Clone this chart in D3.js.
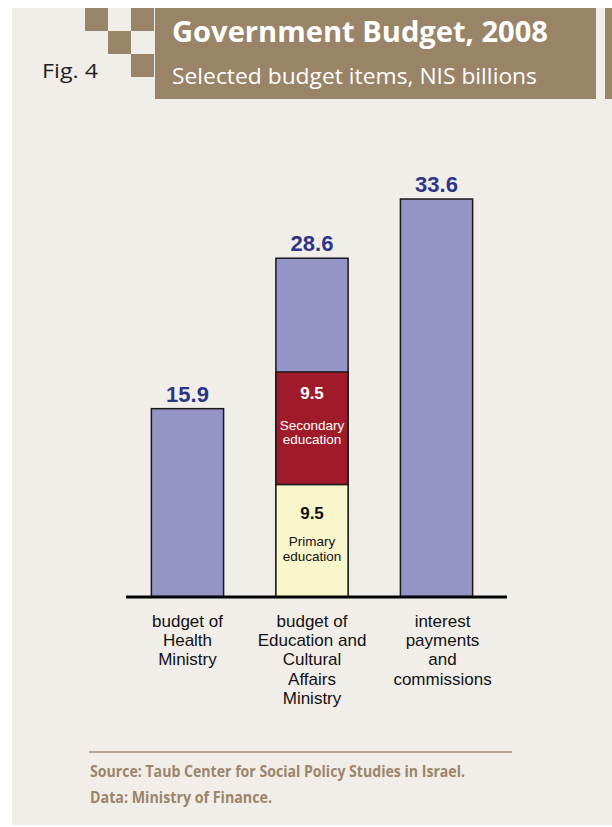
<!DOCTYPE html>
<html><head><meta charset="utf-8">
<script src="https://cdn.jsdelivr.net/npm/d3@7"></script>
<style>html,body{margin:0;padding:0;background:#fff;}svg{display:block;}</style>
</head><body>
<script>
// ---- data ----
const categories = ["health", "education", "interest"];
const categoryLabels = [
  ["budget of", "Health", "Ministry"],
  ["budget of", "Education and", "Cultural", "Affairs", "Ministry"],
  ["interest", "payments", "and", "commissions"]
];
const totals = [15.9, 28.6, 33.6];
const primaryEducation = [0, 9.5, 0];
const secondaryEducation = [0, 9.5, 0];
const segmentNames = ["Primary education", "Secondary education"];
const totalLabels = ["15.9", "28.6", "33.6"];

const W = 612, H = 827;
const svg = d3.select("body").append("svg").attr("width", W).attr("height", H);

// panel
svg.append("rect").attr("x", 12).attr("y", 8).attr("width", W - 12).attr("height", 817).attr("fill", "#F1EEEA");

const brown = "#9A8468";
// checker squares
const sq = [[85, 8], [131, 8], [108, 31], [131, 54]];
svg.selectAll("rect.sq").data(sq).enter().append("rect").attr("class", "sq")
  .attr("x", d => d[0]).attr("y", d => d[1]).attr("width", 23).attr("height", 23).attr("fill", brown);
// title box
svg.append("rect").attr("x", 155).attr("y", 8).attr("width", 441).attr("height", 91).attr("fill", brown);
svg.append("rect").attr("x", 605).attr("y", 8).attr("width", 7).attr("height", 91).attr("fill", brown);

svg.append("text").attr("x", 42).attr("y", 78).text("Fig. 4")
  .attr("font-family", "'Open Sans', sans-serif").attr("font-size", 20).attr("fill", "#231F20")
  .attr("textLength", 56).attr("lengthAdjust", "spacingAndGlyphs");
svg.append("text").attr("x", 172).attr("y", 42).text("Government Budget, 2008")
  .attr("font-family", "'Open Sans', sans-serif").attr("font-weight", "bold").attr("font-size", 28).attr("fill", "#fff")
  .attr("textLength", 376).attr("lengthAdjust", "spacingAndGlyphs");
svg.append("text").attr("x", 172).attr("y", 84).text("Selected budget items, NIS billions")
  .attr("font-family", "'Open Sans', sans-serif").attr("font-size", 22).attr("fill", "#fff")
  .attr("textLength", 365).attr("lengthAdjust", "spacingAndGlyphs");

// scales
const baseY = 597;
const x = d3.scaleBand().domain(categories).range([119, 505]).paddingInner(0.42).paddingOuter(0.26);
const y = d3.scaleLinear().domain([0, 33.6]).range([baseY, 199]);

const g = svg.append("g");
const stroke = "#1a1a1a";
// full bars (blue)
g.selectAll("rect.total").data(categories).enter().append("rect").attr("class", "total")
  .attr("x", d => x(d)).attr("width", x.bandwidth())
  .attr("y", (d, i) => y(totals[i])).attr("height", (d, i) => baseY - y(totals[i]))
  .attr("fill", "#9494C6").attr("stroke", stroke).attr("stroke-width", 1.5);

// stacked segments
const segData = categories.map((c, i) => ({c, p: primaryEducation[i], s: secondaryEducation[i]})).filter(d => d.p > 0);
g.selectAll("rect.prim").data(segData).enter().append("rect")
  .attr("x", d => x(d.c)).attr("width", x.bandwidth())
  .attr("y", d => y(d.p)).attr("height", d => baseY - y(d.p))
  .attr("fill", "#FAF6CB").attr("stroke", stroke).attr("stroke-width", 1.5);
g.selectAll("rect.sec").data(segData).enter().append("rect")
  .attr("x", d => x(d.c)).attr("width", x.bandwidth())
  .attr("y", d => y(d.p + d.s)).attr("height", d => y(d.p) - y(d.p + d.s))
  .attr("fill", "#A01B29").attr("stroke", stroke).attr("stroke-width", 1.5);

const font = "Arial, 'Liberation Sans', sans-serif";
// segment labels
segData.forEach(d => {
  const cx = x(d.c) + x.bandwidth() / 2;
  const topP = y(d.p), topS = y(d.p + d.s);
  g.append("text").attr("x", cx).attr("y", topS + 27).attr("text-anchor", "middle").text(d.s.toFixed(1))
    .attr("font-family", font).attr("font-weight", "bold").attr("font-size", 17).attr("fill", "#fff");
  segmentNames[1].split(" ").forEach((w, k) => {
    g.append("text").attr("x", cx).attr("y", topS + 58 + k * 14.5).attr("text-anchor", "middle").text(w)
      .attr("font-family", font).attr("font-size", 13.5).attr("fill", "#fff");
  });
  g.append("text").attr("x", cx).attr("y", topP + 35).attr("text-anchor", "middle").text(d.p.toFixed(1))
    .attr("font-family", font).attr("font-weight", "bold").attr("font-size", 17).attr("fill", "#111");
  segmentNames[0].split(" ").forEach((w, k) => {
    g.append("text").attr("x", cx).attr("y", topP + 62 + k * 14.5).attr("text-anchor", "middle").text(w)
      .attr("font-family", font).attr("font-size", 13.5).attr("fill", "#111");
  });
});

// total labels
g.selectAll("text.tot").data(categories).enter().append("text")
  .attr("x", d => x(d) + x.bandwidth() / 2).attr("y", (d, i) => y(totals[i]) - 7)
  .attr("text-anchor", "middle").text((d, i) => totalLabels[i])
  .attr("font-family", font).attr("font-weight", "bold").attr("font-size", 22).attr("fill", "#2E3585");

// axis baseline
g.append("line").attr("x1", 126).attr("x2", 507).attr("y1", baseY).attr("y2", baseY)
  .attr("stroke", "#000").attr("stroke-width", 3);

// category labels
categories.forEach((c, i) => {
  const cx = x(c) + x.bandwidth() / 2 + (i === 2 ? 6 : 0);
  categoryLabels[i].forEach((line, k) => {
    g.append("text").attr("x", cx).attr("y", 627 + k * 19.2).attr("text-anchor", "middle").text(line)
      .attr("font-family", font).attr("font-size", 17).attr("fill", "#111");
  });
});

// footer
svg.append("line").attr("x1", 89).attr("x2", 512).attr("y1", 752).attr("y2", 752)
  .attr("stroke", "#B5A58E").attr("stroke-width", 2);
const srcFont = "'Liberation Sans Narrow', 'Open Sans', sans-serif";
svg.append("text").attr("x", 90).attr("y", 777).text("Source: Taub Center for Social Policy Studies in Israel.")
  .attr("font-family", srcFont).attr("font-weight", "bold").attr("font-size", 16).attr("fill", "#9C8568")
  .attr("textLength", 375).attr("lengthAdjust", "spacingAndGlyphs");
svg.append("text").attr("x", 90).attr("y", 803).text("Data: Ministry of Finance.")
  .attr("font-family", srcFont).attr("font-weight", "bold").attr("font-size", 16).attr("fill", "#9C8568")
  .attr("textLength", 182).attr("lengthAdjust", "spacingAndGlyphs");
</script>
</body></html>
